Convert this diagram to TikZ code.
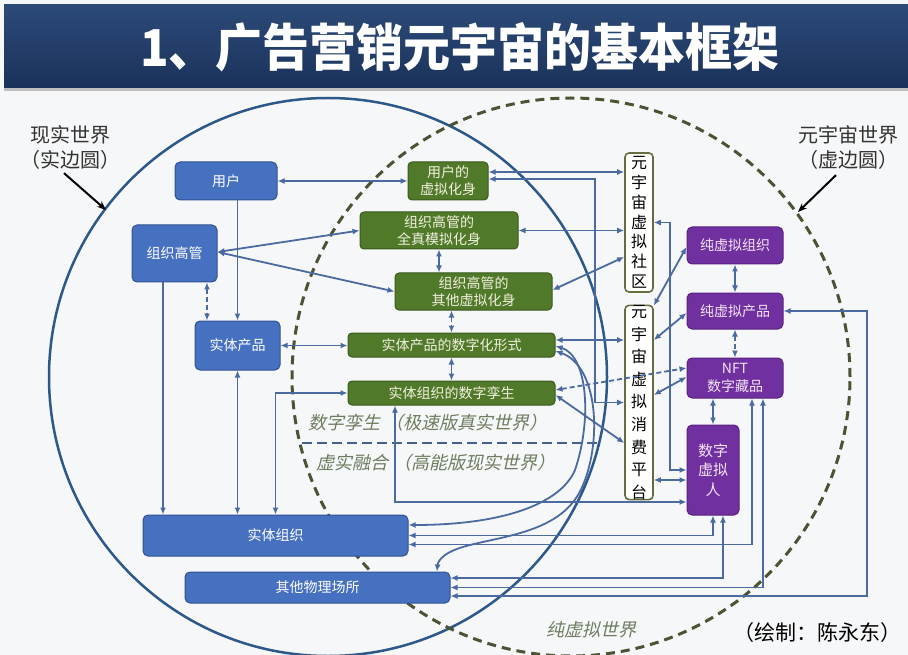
\documentclass[tikz,border=0pt]{standalone}
\usepackage{fontspec}
\setmainfont{Noto Sans CJK SC}
\newfontfamily\cjkit[FakeSlant=0.22]{Noto Sans CJK SC}
\usetikzlibrary{arrows.meta}
\definecolor{bgc}{RGB}{246,247,248}
\definecolor{bandtop}{RGB}{44,74,120}
\definecolor{bandbot}{RGB}{26,50,90}
\definecolor{boxblue}{RGB}{70,112,192}
\definecolor{blueborder}{RGB}{50,82,145}
\definecolor{boxgreen}{RGB}{80,122,42}
\definecolor{greenborder}{RGB}{58,90,30}
\definecolor{gtext}{RGB}{242,240,222}
\definecolor{boxpurple}{RGB}{112,48,160}
\definecolor{purpleborder}{RGB}{88,34,128}
\definecolor{ptext}{RGB}{244,228,246}
\definecolor{oliveb}{RGB}{100,110,62}
\definecolor{linecol}{RGB}{74,106,160}
\definecolor{realc}{RGB}{44,88,138}
\definecolor{virtc}{RGB}{74,84,52}
\definecolor{itc}{RGB}{110,125,95}
\definecolor{sepc}{RGB}{70,95,145}
\tikzset{
  bbox/.style={draw=blueborder, fill=boxblue, rounded corners=5pt, line width=1pt, text=white,
    font=\fontsize{14}{17}\selectfont, inner sep=0pt, align=center},
  gbox/.style={draw=greenborder, fill=boxgreen, rounded corners=4pt, line width=1pt, text=gtext,
    font=\fontsize{14}{17}\selectfont, inner sep=0pt, align=center},
  pbox/.style={draw=purpleborder, fill=boxpurple, rounded corners=5pt, line width=1pt, text=ptext,
    font=\fontsize{14}{18}\selectfont, inner sep=0pt, align=center},
  tbox/.style={draw=oliveb, fill=white, rounded corners=4pt, line width=1.6pt, text=black,
    inner sep=0pt, align=center},
  conn/.style={draw=linecol, line width=1.8pt},
  both/.style={conn, {Latex[length=7pt,width=6pt]}-{Latex[length=7pt,width=6pt]}},
  one/.style={conn, -{Latex[length=7pt,width=6pt]}},
  dsh/.style={dash pattern=on 5pt off 3pt},
  itlabel/.style={text=itc, font=\cjkit\fontsize{18}{20}\selectfont, inner sep=0pt},
  sidelabel/.style={text=black!80, font=\fontsize{20}{25}\selectfont, align=center, inner sep=0pt},
  callout/.style={draw=black, line width=2pt, -{Stealth[length=9pt,width=7pt]}}
}
\begin{document}
\begin{tikzpicture}[x=1pt,y=-1pt]
\useasboundingbox (0,0) rectangle (908,655);
\fill[bgc] (0,0) rectangle (908,655);
% title band
\shade[top color=bandtop, bottom color=bandbot] (4,5) rectangle (908,88);
\fill[black!25] (4,88) rectangle (908,91);
\node[text=white, font=\bfseries\fontsize{47}{50}\selectfont, inner sep=0pt, yscale=1.08] (title) at (460,47) {1、广告营销元宇宙的基本框架};

% circles
\draw[realc, line width=2.5pt] (328,377) circle[radius=279pt];
\draw[virtc, line width=3pt, dash pattern=on 9pt off 6pt] (571,377) circle[radius=279pt];

% side labels
\node[sidelabel] (realL) at (70,147) {现实世界\\（实边圆）};
\node[sidelabel] (virtL) at (848,147) {元宇宙世界\\（虚边圆）};
\coordinate (realpt) at (106,210);
\coordinate (virtpt) at (798,212);
\draw[callout] ([xshift=-6pt,yshift=-4pt]realL.south) -- (realpt);
\draw[callout] ([xshift=-12pt,yshift=-6pt]virtL.south) -- (virtpt);

% blue boxes
\node[bbox, minimum width=102pt, minimum height=38pt] (user) at (226,181) {用户};
\node[bbox, minimum width=85pt, minimum height=57pt] (exec) at (174.5,253.5) {组织高管};
\node[bbox, minimum width=85pt, minimum height=49pt] (prod) at (237.5,345.5) {实体产品};
\node[bbox, minimum width=265pt, minimum height=41pt] (org) at (275.5,535.5) {实体组织};
\node[bbox, minimum width=265pt, minimum height=31pt] (other) at (317.5,587.5) {其他物理场所};

% green boxes
\node[gbox, minimum width=80pt, minimum height=38pt] (vavatar) at (448,181) {用户的\\虚拟化身};
\node[gbox, minimum width=158pt, minimum height=37pt] (fullsim) at (439,230.5) {组织高管的\\全真模拟化身};
\node[gbox, minimum width=157pt, minimum height=37pt] (othersim) at (473.5,291.5) {组织高管的\\其他虚拟化身};
\node[gbox, minimum width=207pt, minimum height=24pt] (digform) at (451.5,345) {实体产品的数字化形式};
\node[gbox, minimum width=207pt, minimum height=24pt] (twin) at (451.5,393) {实体组织的数字孪生};

% tall boxes
\node[tbox, minimum width=28pt, minimum height=139pt, font=\fontsize{16}{19.8}\selectfont] (comm) at (639,222.5) {元\\宇\\宙\\虚\\拟\\社\\区};
\node[tbox, minimum width=28pt, minimum height=181pt, font=\fontsize{16}{22.6}\selectfont] (plat) at (639,402.5) {元\\宇\\宙\\虚\\拟\\消\\费\\平\\台};

% purple boxes
\node[pbox, minimum width=96pt, minimum height=37pt] (porg) at (735,245.5) {纯虚拟组织};
\node[pbox, minimum width=96pt, minimum height=36pt] (pprod) at (735,311) {纯虚拟产品};
\node[pbox, minimum width=96pt, minimum height=40pt] (nft) at (735,378) {NFT\\数字藏品};
\node[pbox, minimum width=52pt, minimum height=90pt, font=\fontsize{15}{19.5}\selectfont] (human) at (713,470) {数字\\虚拟\\人};

% helper coordinates
\coordinate (v1) at (595,0);
\coordinate (k1) at (670,0);
\coordinate (k2) at (867,0);

% italic labels and separator
\node[itlabel] (twinlbl) at (428,423) {数字孪生 （极速版真实世界）};
\node[itlabel] (fuselbl) at (436,463) {虚实融合 （高能版现实世界）};
\draw[sepc, line width=2pt, dash pattern=on 10pt off 5pt] (302,443) -- (597,443);
\node[itlabel] (purelbl) at (591,630) {纯虚拟世界};
\node[text=black, font=\fontsize{21}{24}\selectfont, inner sep=0pt] (author) at (817,633) {（绘制：陈永东）};

% connectors
\draw[both] (user.east) -- (vavatar.west);
\draw[both] ([yshift=9pt]vavatar.east) -- ([yshift=9pt]vavatar.east -| comm.west);
\draw[both] ([yshift=2pt]vavatar.east) -| (v1 |- plat.west) -- (plat.west);
\draw[both] (fullsim.east) -- (fullsim.east -| comm.west);
\draw[both] ([yshift=1.5pt]othersim.east) -- ([yshift=-34.5pt]comm.west);
\draw[both] ([yshift=1.5pt]exec.east) -- (fullsim.west);
\draw[both] ([yshift=1.5pt]exec.east) -- (othersim.west);
\draw[one] (prod.north |- user.south) -- (prod.north);
\draw[both, dsh] ([xshift=-30.5pt]prod.north |- exec.south) -- ([xshift=-30.5pt]prod.north);
\draw[one] ([xshift=-11.5pt]exec.south) -- ([xshift=-11.5pt]exec.south |- org.north);
\draw[both] (prod.south) -- (prod.south |- org.north);
\draw[both] (twin.west) -| (org.north);
\draw[both] (prod.east) -- (prod.east -| digform.west);
\draw[both] (fullsim.south) -- (fullsim.south |- othersim.north);
\draw[both, dsh] (digform.north |- othersim.south) -- (digform.north);
\draw[both] (digform.south) -- (twin.north);
\draw[both, dsh] ([yshift=3pt]twin.east) -- ([yshift=10pt]nft.west);
\draw[both] ([yshift=-2pt]twin.east) -- ([yshift=-40.5pt]plat.west);
\draw[both] ([yshift=5pt]digform.east) -- ([yshift=5pt]digform.east -| plat.west);
% curved connectors
\draw[both] ([yshift=-1pt]digform.east) .. controls (588,356) and (592,420) .. (575,470)
  .. controls (560,505) and (500,525) .. ([yshift=10.5pt]org.east);
\draw[both] ([yshift=-6pt]digform.east) .. controls (598,366) and (602,440) .. (583,485)
  .. controls (565,530) and (510,535) .. (470,545)
  .. controls (445,551) and (438,560) .. ([xshift=119.5pt]other.north);
\draw[both] ([xshift=-56.5pt]twin.south) |- ([yshift=-32pt]human.west);
\draw[both] ([yshift=-77.5pt]plat.east) -- ([yshift=-10pt]human.west);
\draw[both] (comm.east) -| (k1 |- human.west) -- (human.west);
\draw[both] ([yshift=-1pt]plat.north east) -- ([yshift=-1.5pt]porg.west);
\draw[both] ([yshift=62.5pt]plat.east) -- ([yshift=-2pt]pprod.west);
\draw[both] ([yshift=7.5pt]plat.east) -- ([yshift=1pt]nft.west);
\draw[both] (porg.south) -- (pprod.north);
\draw[both, dsh] (pprod.south) -- (nft.north);
\draw[both] (human.north |- nft.south) -- (human.north);
\draw[both] (org.east) -| (human.south);
\draw[both] ([yshift=-9pt]org.east) -| ([xshift=17pt]nft.south);
\draw[both] ([yshift=9.5pt]other.east) -| ([xshift=10pt]human.south);
\draw[both] (other.east) -| ([xshift=28pt]nft.south);
\draw[both] ([yshift=-8.5pt]other.east) -| (k2 |- pprod.east) -- (pprod.east);
\end{tikzpicture}
\end{document}
